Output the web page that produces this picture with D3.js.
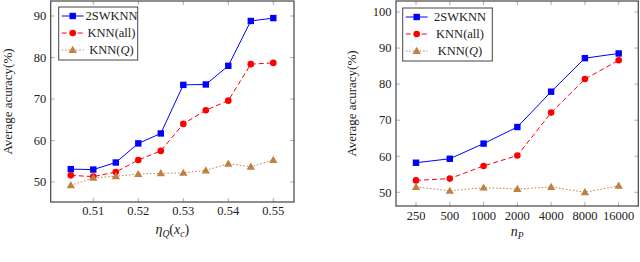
<!DOCTYPE html>
<html><head><meta charset="utf-8">
<script src="https://cdn.jsdelivr.net/npm/d3@7"></script>
<style>
body{margin:0;background:#fff;}
</style></head>
<body>
<svg id="c" width="640" height="262"></svg>
<script>
// ---- data ----
const etaX = [0.505,0.51,0.515,0.52,0.525,0.53,0.535,0.54,0.545,0.55];
const etaTicks = [0.51,0.52,0.53,0.54,0.55];
const left2SW = [53.1,53.0,54.7,59.3,61.7,73.4,73.5,78.0,88.8,89.5];
const leftAll = [51.6,51.3,52.4,55.3,57.5,64.0,67.3,69.6,78.4,78.7];
const leftQ   = [49.2,51.0,51.4,51.9,52.1,52.2,52.8,54.4,53.7,55.3];
const leftYTicks = [50,60,70,80,90];

const npCats = ["250","500","1000","2000","4000","8000","16000"];
const right2SW = [58.2,59.3,63.5,68.1,77.9,87.2,88.5];
const rightAll = [53.3,53.8,57.3,60.2,72.1,81.4,86.6];
const rightQ   = [51.5,50.4,51.3,50.9,51.5,50.0,51.8];
const rightYTicks = [50,60,70,80,90,100];

const seriesNames = ["2SWKNN","KNN(all)","KNN(Q)"];
// ---- styles ----
const styles = [
  {color:"#0000ff", dash:null, marker:"square"},
  {color:"#ff0000", dash:"5,3", marker:"circle"},
  {color:"#bf8040", dash:"1.5,2", marker:"triangle"}
];
const FONT = "'Liberation Serif'";

const svg = d3.select("#c");

function marker(g, type, x, y, color){
  if(type==="square") g.append("rect").attr("x",x-3.2).attr("y",y-3.2).attr("width",6.4).attr("height",6.4).attr("fill",color);
  else if(type==="circle") g.append("circle").attr("cx",x).attr("cy",y).attr("r",3.3).attr("fill",color);
  else g.append("path").attr("d",d3.symbol(d3.symbolTriangle,30)()).attr("transform",`translate(${x},${y+0.6})`).attr("fill",color);
}

function txt(g){ return g.append("text").style("font-family",FONT).attr("fill","#222"); }

function panel(cfg){
  const g = svg.append("g");
  const {x0,x1,y0,y1,xs,ys} = cfg;
  const tickCol = "#999", tl=4;
  cfg.xTickVals.forEach(v=>{
    const X = xs(v);
    g.append("line").attr("x1",X).attr("x2",X).attr("y1",y1).attr("y2",y1-tl).attr("stroke",tickCol).attr("stroke-width",0.8);
    g.append("line").attr("x1",X).attr("x2",X).attr("y1",y0).attr("y2",y0+tl).attr("stroke",tickCol).attr("stroke-width",0.8);
    txt(g).attr("x",X).attr("y",cfg.xLabY).attr("text-anchor","middle").attr("font-size",12.5).text(cfg.xFmt(v));
  });
  cfg.yTickVals.forEach(v=>{
    const Y = ys(v);
    g.append("line").attr("x1",x0).attr("x2",x0+tl).attr("y1",Y).attr("y2",Y).attr("stroke",tickCol).attr("stroke-width",0.8);
    g.append("line").attr("x1",x1).attr("x2",x1-tl).attr("y1",Y).attr("y2",Y).attr("stroke",tickCol).attr("stroke-width",0.8);
    txt(g).attr("x",x0-4.5).attr("y",Y+4.3).attr("text-anchor","end").attr("font-size",12.5).text(v);
  });
  cfg.series.forEach((vals,i)=>{
    const st = styles[i];
    const pts = vals.map((v,j)=>[xs(cfg.xv[j]), ys(v)]);
    g.append("path").attr("d",d3.line()(pts)).attr("fill","none").attr("stroke",st.color)
      .attr("stroke-width",1).attr("stroke-dasharray",st.dash);
    pts.forEach(p=>marker(g,st.marker,p[0],p[1],st.color));
  });
  g.append("rect").attr("x",x0).attr("y",y0).attr("width",x1-x0).attr("height",y1-y0)
    .attr("fill","none").attr("stroke","#444").attr("stroke-width",1.2);
  const L = cfg.legend;
  g.append("rect").attr("x",L.x).attr("y",L.y).attr("width",L.w).attr("height",L.h)
    .attr("fill","#fff").attr("stroke","#444").attr("stroke-width",1);
  seriesNames.forEach((n,i)=>{
    const st = styles[i];
    const yy = L.y + 9 + i*17;
    g.append("line").attr("x1",L.x+3).attr("x2",L.x+25).attr("y1",yy).attr("y2",yy)
      .attr("stroke",st.color).attr("stroke-width",1).attr("stroke-dasharray",st.dash);
    marker(g,st.marker,L.x+14,yy,st.color);
    const t = txt(g).attr("x",L.tx).attr("y",yy+4.3).attr("text-anchor","middle").attr("font-size",12.5);
    if(n==="KNN(Q)"){ t.append("tspan").text("KNN("); t.append("tspan").attr("font-style","italic").text("Q"); t.append("tspan").text(")"); }
    else t.text(n);
  });
  txt(g).attr("transform",`translate(${cfg.yLabX},${(y0+y1)/2}) rotate(-90)`)
    .attr("text-anchor","middle").attr("font-size",13).text("Average acuracy(%)");
  const xl = txt(g).attr("x",(x0+x1)/2).attr("y",cfg.xTitleY).attr("text-anchor","middle").attr("font-size",14);
  cfg.xTitle(xl);
  return g;
}

{
  const x0=50.7,x1=294,y0=1,y1=202;
  const xs = d3.scaleLinear().domain([0.51,0.55]).range([93.3,273.3]);
  const ys = d3.scaleLinear().domain([50,90]).range([182,16]);
  panel({x0,x1,y0,y1,xs,ys,xv:etaX,xTickVals:etaTicks,xFmt:d=>d3.format(".2f")(d),
    yTickVals:leftYTicks,xLabY:214.5,series:[left2SW,leftAll,leftQ],
    legend:{x:58.7,y:7,w:79,h:53,tx:111.5},yLabX:12,xTitleY:234,
    xTitle:t=>{t.append("tspan").attr("font-style","italic").text("η");
      t.append("tspan").attr("font-style","italic").attr("font-size",9.5).attr("dy",3).text("Q");
      t.append("tspan").attr("dy",-3).text("(");
      t.append("tspan").attr("font-style","italic").text("x");
      t.append("tspan").attr("font-style","italic").attr("font-size",9.5).attr("dy",3).text("c");
      t.append("tspan").attr("dy",-3).text(")");}});
}
{
  const x0=396,x1=638.3,y0=1,y1=206;
  const xs = d3.scaleLinear().domain([0,6]).range([416,618.7]);
  const ys = d3.scaleLinear().domain([50,100]).range([192.3,12]);
  panel({x0,x1,y0,y1,xs,ys,xv:npCats.map((d,i)=>i),xTickVals:npCats.map((d,i)=>i),xFmt:i=>npCats[i],
    yTickVals:rightYTicks,xLabY:220,series:[right2SW,rightAll,rightQ],
    legend:{x:402.7,y:8,w:89.6,h:53,tx:460},yLabX:356,xTitleY:236,
    xTitle:t=>{t.append("tspan").attr("font-style","italic").text("n");
      t.append("tspan").attr("font-style","italic").attr("font-size",9.5).attr("dy",3).text("P");}});
}
</script>
</body></html>
